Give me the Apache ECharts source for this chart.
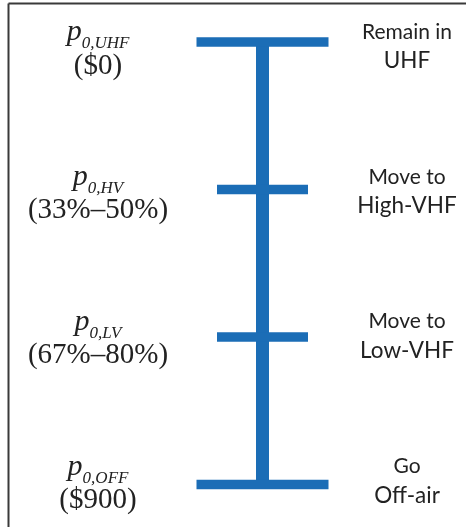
<!DOCTYPE html>
<html>
<head>
<meta charset="utf-8">
<script src="https://cdn.jsdelivr.net/npm/echarts@6/dist/echarts.min.js"></script>
<style>
html,body{margin:0;padding:0;background:#fff;}
#chart{width:466px;height:527px;}
</style>
</head>
<body>
<div id="chart"></div>
<script>
// ---- data ----
const levels = [0, 1, 2, 3];
const priceSymbols = ['p', 'p', 'p', 'p'];
const priceSubscripts = ['0,UHF', '0,HV', '0,LV', '0,OFF'];
const priceValues = ['($0)', '(33%–50%)', '(67%–80%)', '($900)'];
const actionVerbs = ['Remain in', 'Move to', 'Move to', 'Go'];
const actionTargets = ['UHF', 'High-VHF', 'Low-VHF', 'Off-air'];

// ---- style ----
const BLUE = '#1b6db6';
const TEXT = '#222222';
const SERIF = '"Liberation Serif", "DejaVu Serif", serif';
const SANS = 'Lato, "Open Sans", sans-serif';

const chart = echarts.init(document.getElementById('chart'), null, {renderer: 'canvas'});
const lastIdx = levels.length - 1;

const option = {
  animation: false,
  backgroundColor: '#fff',
  grid: [
    {left: 162.5, right: 103.5, top: 42, bottom: 42.5},
    {left: 0, right: 0, top: 63, bottom: 29.5}
  ],
  xAxis: [
    {gridIndex: 0, type: 'value', min: -1, max: 1, show: false},
    {gridIndex: 1, type: 'value', min: -1, max: 1, show: false}
  ],
  yAxis: [
    {gridIndex: 0, type: 'value', min: 0, max: 3, inverse: true, show: false},
    {gridIndex: 1, type: 'value', min: 0, max: 3, inverse: true, show: false}
  ],
  graphic: [
    {type: 'line', shape: {x1: 8.5, y1: 3.5, x2: 466, y2: 3.5}, style: {stroke: '#3a3a3a', lineWidth: 2}},
    {type: 'line', shape: {x1: 8.5, y1: 3.5, x2: 8.5, y2: 527}, style: {stroke: '#3a3a3a', lineWidth: 2}}
  ],
  series: [
    {
      type: 'line',
      xAxisIndex: 0, yAxisIndex: 0,
      data: [[0, levels[0]], [0, levels[lastIdx]]],
      symbol: 'none',
      silent: true,
      lineStyle: {color: BLUE, width: 13, cap: 'butt'},
      z: 2
    },
    {
      type: 'custom',
      xAxisIndex: 0, yAxisIndex: 0,
      data: levels.map(l => [0, l]),
      encode: {x: 0, y: 1},
      silent: true,
      z: 3,
      renderItem: function (params, api) {
        const p = api.coord([api.value(0), api.value(1)]);
        const idx = params.dataIndex;
        const isEnd = idx === 0 || idx === lastIdx;
        const half = isEnd ? 66 : 45.5;
        return {
          type: 'rect',
          shape: {x: p[0] - half, y: p[1] - 4.75, width: half * 2, height: 9.5},
          style: {fill: BLUE}
        };
      }
    },
    {
      type: 'custom',
      xAxisIndex: 1, yAxisIndex: 1,
      data: levels.map(l => [0, l]),
      encode: {x: 0, y: 1},
      silent: true,
      z: 4,
      renderItem: function (params, api) {
        const idx = params.dataIndex;
        const p = api.coord([api.value(0), api.value(1)]);
        const y = p[1];
        const leftX = 98, rightX = 407;
        return {
          type: 'group',
          children: [
            {
              type: 'text',
              style: {
                x: leftX, y: y - 28,
                text: '{p|' + priceSymbols[idx] + '}{s|' + priceSubscripts[idx] + '}',
                align: 'center', verticalAlign: 'middle',
                rich: {
                  p: {fontFamily: SERIF, fontStyle: 'italic', fontSize: 30, fill: TEXT, color: TEXT, verticalAlign: 'bottom', padding: [0, 0, 5, 0]},
                  s: {fontFamily: SERIF, fontStyle: 'italic', fontSize: 17, fill: TEXT, color: TEXT, verticalAlign: 'bottom'}
                }
              }
            },
            {
              type: 'text',
              style: {
                x: leftX, y: y + 3,
                text: priceValues[idx],
                align: 'center', verticalAlign: 'middle',
                fontFamily: SERIF, fontSize: 29, fill: TEXT
              }
            },
            {
              type: 'text',
              style: {
                x: rightX, y: y - 31,
                text: actionVerbs[idx],
                align: 'center', verticalAlign: 'middle',
                fontFamily: SANS, fontSize: 21, fill: TEXT
              }
            },
            {
              type: 'text',
              style: {
                x: rightX, y: y - 2,
                text: actionTargets[idx],
                align: 'center', verticalAlign: 'middle',
                fontFamily: SANS, fontSize: 22.5, fill: TEXT
              }
            }
          ]
        };
      }
    }
  ]
};
chart.setOption(option);
</script>
</body>
</html>
